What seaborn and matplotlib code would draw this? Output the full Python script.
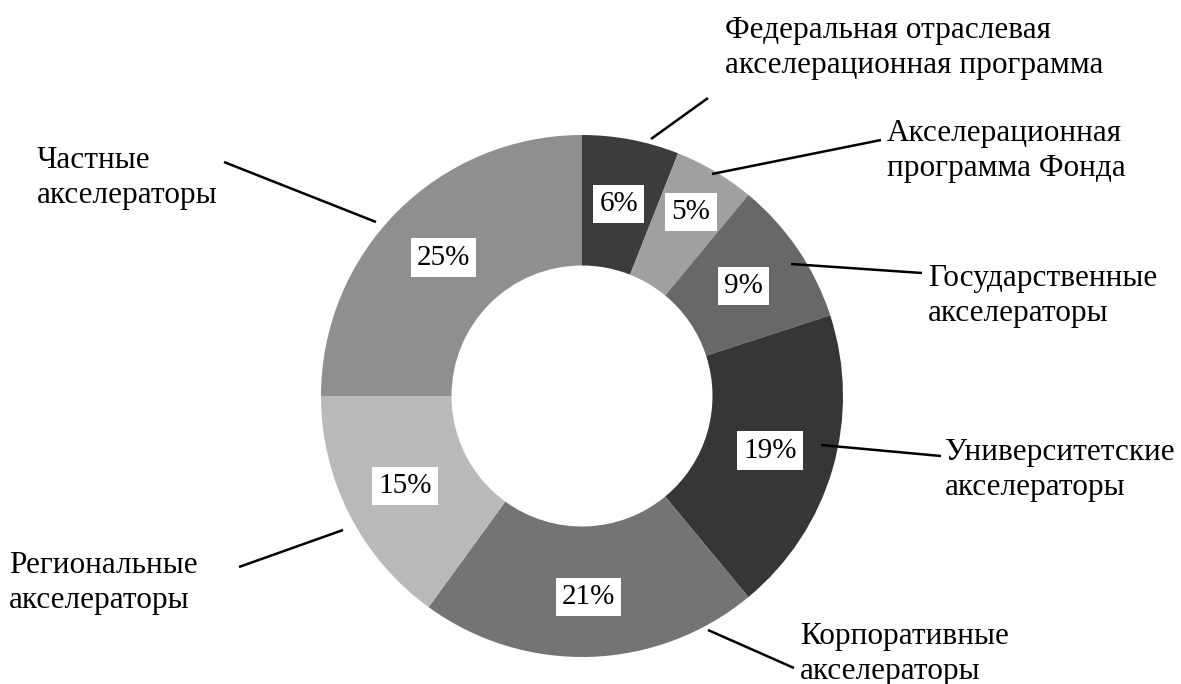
import numpy as np
import seaborn as sns
import matplotlib.pyplot as plt

# shares of accelerators by type, clockwise from the top
categories = ['Федеральная отраслевая\nакселерационная программа',
              'Акселерационная\nпрограмма Фонда',
              'Государственные\nакселераторы',
              'Университетские\nакселераторы',
              'Корпоративные\nакселераторы',
              'Региональные\nакселераторы',
              'Частные\nакселераторы']
shares = [6, 5, 9, 19, 21, 15, 25]
colors = ['#3c3c3c', '#a0a0a0', '#686868', '#363636', '#747474', '#b9b9b9', '#8f8f8f']

# leader lines (start, end) and label anchor, in image pixels
leaders = [((651, 139), (708, 98)),
           ((712, 174), (881, 140)),
           ((791, 264), (922, 273)),
           ((821, 445), (941, 456)),
           ((708, 630), (794, 668)),
           ((343, 530), (239, 567)),
           ((376, 222), (224, 162))]
label_pos = [(725, 48), (887, 151), (928, 296), (945, 470), (800, 654), (9, 583), (37, 178)]
pct_dist = [0.75, 0.82, 0.75, 0.75, 0.77, 0.76, 0.75]

CX, CY, R = 582, 396, 261
W, H = 1181, 684


def px(x, y):
    '''converts image pixel position to data coordinates of the pie axes'''
    return (x - CX) / R, (CY - y) / R


sns.set_theme(style='white')
plt.rcParams['font.family'] = ['Liberation Serif', 'DejaVu Serif']

fig = plt.figure(figsize=(W / 100, H / 100), dpi=100)
ax = fig.add_axes([0, 0, 1, 1])

wedges, _, autotexts = ax.pie(shares, colors=sns.color_palette(colors), startangle=90,
                              counterclock=False, radius=1,
                              wedgeprops=dict(width=0.5, linewidth=0),
                              autopct='%d%%', pctdistance=0.75,
                              textprops=dict(fontsize=21, color='black'))
for w, t, d in zip(wedges, autotexts, pct_dist):
    ang = np.deg2rad((w.theta1 + w.theta2) / 2)
    t.set_position((d * np.cos(ang), d * np.sin(ang)))
    t.set_bbox(dict(facecolor='white', edgecolor='none', pad=4.5))

for (p0, p1), (lx, ly), name in zip(leaders, label_pos, categories):
    x0, y0 = px(*p0)
    x1, y1 = px(*p1)
    ax.plot([x0, x1], [y0, y1], color='black', lw=1.8, solid_capstyle='butt')
    tx, ty = px(lx, ly)
    ax.text(tx, ty, name, ha='left', va='center', fontsize=22.5, color='black',
            linespacing=1.25)

ax.set_xlim(-CX / R, (W - CX) / R)
ax.set_ylim(-(H - CY) / R, CY / R)
ax.set_aspect('auto')
ax.axis('off')

fig.savefig('out.png', dpi=100, facecolor='white')
plt.close()
